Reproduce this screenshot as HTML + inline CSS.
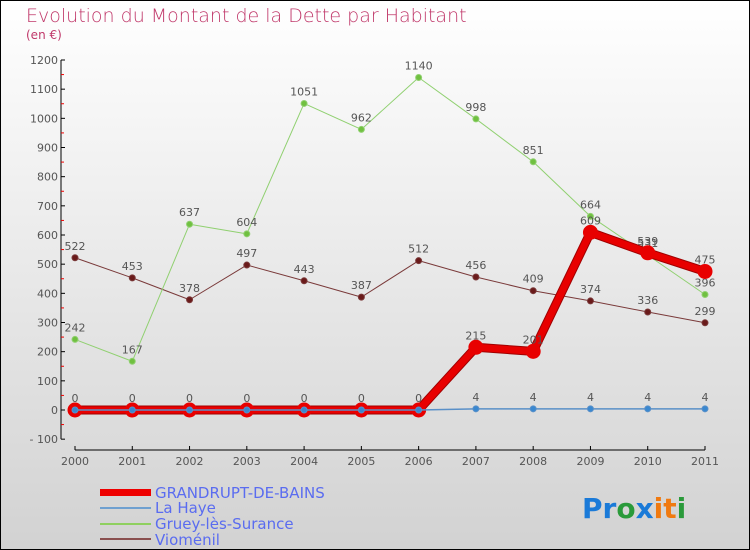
<!DOCTYPE html>
<html><head><meta charset="utf-8"><style>
body{margin:0;padding:0}
#wrap{position:relative;width:750px;height:550px;box-sizing:border-box;border:1px solid #000;background:linear-gradient(#ffffff,#d2d2d2);overflow:hidden;font-family:"DejaVu Sans","Liberation Sans",sans-serif}
</style></head><body>
<div id="wrap">
<svg id="chart" width="748" height="548" viewBox="1 1 748 548" style="position:absolute;left:0;top:0">
<text x="26" y="22" font-size="19" fill="#c0386a" font-family="DejaVu Sans, sans-serif" font-weight="200">Evolution du Montant de la Dette par Habitant</text>
<text x="26" y="39" font-size="12" fill="#c0386a">(en €)</text>
<g id="axes"></g><g id="series"></g>
<g>
<rect x="100" y="489" width="51" height="7" fill="#e00"/>
<text x="155" y="498" font-size="15" fill="#5a6cf0">GRANDRUPT-DE-BAINS</text>
<rect x="100" y="507" width="51" height="2" fill="#6fa0d0"/>
<text x="155" y="513" font-size="15" fill="#5a6cf0">La Haye</text>
<rect x="100" y="523" width="51" height="2" fill="#8fd060"/>
<text x="155" y="529" font-size="15" fill="#5a6cf0">Gruey-lès-Surance</text>
<rect x="100" y="538" width="51" height="2" fill="#8a5050"/>
<text x="155" y="545" font-size="15" fill="#5a6cf0">Vioménil</text>
</g>
<text x="582" y="518" font-size="28" font-weight="bold" font-family="DejaVu Sans, sans-serif"><tspan fill="#1a7ad8">Pr</tspan><tspan fill="#2a9a3a">o</tspan><tspan fill="#1a7ad8">x</tspan><tspan fill="#f07a10">i</tspan><tspan fill="#f07a10">t</tspan><tspan fill="#2a9a3a">i</tspan></text>
</svg>
</div>
<script>
const years=["2000","2001","2002","2003","2004","2005","2006","2007","2008","2009","2010","2011"];
const grandrupt=[0,0,0,0,0,0,0,215,201,609,539,475];
const laHaye=[0,0,0,0,0,0,0,4,4,4,4,4];
const gruey=[242,167,637,604,1051,962,1140,998,851,664,531,396];
const viomenil=[522,453,378,497,443,387,512,456,409,374,336,299];
const yTicks=[-100,0,100,200,300,400,500,600,700,800,900,1000,1100,1200];
const NS="http://www.w3.org/2000/svg";
const xS=i=>75+i*(630/11);
const yS=v=>410-v*350/1200;
function mk(t,a,p){const e=document.createElementNS(NS,t);for(const k in a)e.setAttribute(k,a[k]);p.appendChild(e);return e;}
const ax=document.getElementById('axes');
const yl=mk('line',{x1:61,y1:yS(1200),x2:61,y2:yS(-100),stroke:'#000'},ax);


yTicks.forEach((v,i)=>{
 mk('line',{x1:61,y1:yS(v),x2:65,y2:yS(v),stroke:'#000'},ax);
 if(i<yTicks.length-1)mk('line',{x1:61,y1:yS(v+50),x2:64,y2:yS(v+50),stroke:'#e00'},ax);
 const t=mk('text',{x:58,y:yS(v)+4,'font-size':11,fill:'#555','text-anchor':'end'},ax);
 t.textContent=v<0?'- '+(-v):v;
 
 
});
const xl=mk('line',{x1:75,y1:450,x2:705,y2:450,stroke:'#000'},ax);


years.forEach((y,i)=>{
 mk('line',{x1:xS(i),y1:446,x2:xS(i),y2:450,stroke:'#000'},ax);
 const t=mk('text',{x:xS(i),y:465,'font-size':11,fill:'#555','text-anchor':'middle'},ax);
 t.textContent=y;
 
 
});
const sg=document.getElementById('series');
function series(name,data,color,w,r,fill,labels,outline){
 const g=mk('g',{},sg);
 
 
 const pts=data.map((v,i)=>xS(i)+','+yS(v)).join(' ');
 if(outline)mk('polyline',{points:pts,fill:'none',stroke:outline,'stroke-width':w+2,'stroke-linejoin':'round'},g);
 const pl=mk('polyline',{points:pts,fill:'none',stroke:color,'stroke-width':w,'stroke-linejoin':'round'},g);
 
 
 data.forEach((v,i)=>{
  const c=mk('circle',{cx:xS(i),cy:yS(v),r:r,fill:fill,stroke:color,'stroke-width':w>3?3:1},g);
  
  
  if(labels){const t=mk('text',{x:xS(i),y:yS(v)-8,'font-size':11,fill:'#555','text-anchor':'middle'},g);t.textContent=v;
  
  }
 });
}
series('viomenil',viomenil,'#7a3a3a',1,3,'#6a1a1a',true,null);
series('gruey',gruey,'#90d070',1,3,'#70c040',true,null);
series('grandrupt',grandrupt,'#e80000',7,6,'#e80000',true,'#a00000');
series('la-haye',laHaye,'#5a90c8',1.5,3,'#3a88d0',false,null);
laHaye.forEach((v,i)=>{if(i>=7){const t=mk('text',{x:xS(i),y:yS(v)-8,'font-size':11,fill:'#555','text-anchor':'middle'},sg);t.textContent=v;

}});
</script>
</body></html>
